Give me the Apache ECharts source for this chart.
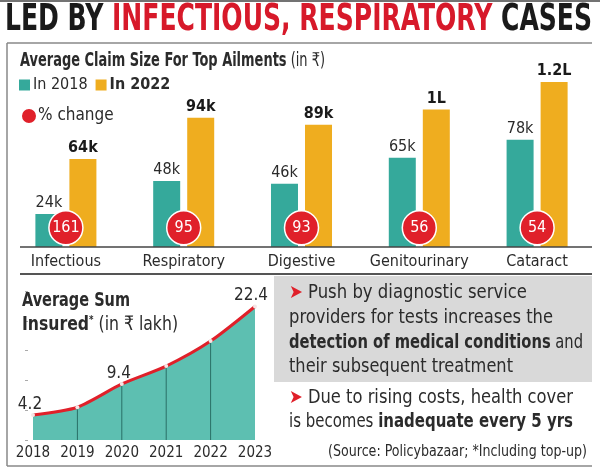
<!DOCTYPE html>
<html><head><meta charset="utf-8">
<script src="https://cdn.jsdelivr.net/npm/echarts@6/dist/echarts.min.js"></script>
<style>html,body{margin:0;padding:0;background:#fff}#c{width:600px;height:468px}</style>
</head><body><div id="c"></div>
<script>
// ---- data ----
const ailments = ['Infectious', 'Respiratory', 'Digestive', 'Genitourinary', 'Cataract'];
const claim2018 = [24, 48, 46, 65, 78];      // in thousand rupees
const claim2022 = [64, 94, 89, 100, 120];    // in thousand rupees (100k = 1L)
const pctChange = [161, 95, 93, 56, 54];
const years = ['2018', '2019', '2020', '2021', '2022', '2023'];
const sumInsured = [4.2, 5.5, 9.4, 12.4, 16.6, 22.4]; // in lakh
const sumLabelled = ['2018', '2020', '2023'];

// ---- style ----
const FF = "'Liberation Sans Narrow', 'DejaVu Sans Condensed', sans-serif";
const TEAL = '#35a99b', ORANGE = '#efad1f', RED = '#e0202a', AREA = '#5dbfb1', TXT = '#2b2b2b';

const cv = document.createElement('canvas').getContext('2d');
function measure(t, weight, size) { cv.font = weight + ' ' + size + 'px ' + FF; return cv.measureText(t).width; }
// lay out text segments condensed to a target width
function line(list, x, y, width, size) {
  const ws = list.map(s => measure(s.t, s.bold ? 'bold' : 'normal', s.size || size));
  const total = ws.reduce((a, b) => a + b, 0);
  const k = width / total;
  let cx = x; const out = [];
  list.forEach((s, i) => {
    out.push({ type: 'text', x: cx, y: y + (s.dy || 0), scaleX: k, z: 10,
      style: { text: s.t, fontFamily: FF, fontSize: s.size || size, fontWeight: s.bold ? 'bold' : 'normal',
        fill: s.color || TXT, verticalAlign: 'middle', align: 'left' } });
    cx += ws[i] * k;
  });
  return out;
}
const chart = echarts.init(document.getElementById('c'), null, { renderer: 'canvas' });
const kLabel = v => v >= 100 ? (v / 100) + 'L' : v + 'k';

const graphics = [].concat(
  [{ type: 'line', shape: { x1: 0, y1: 1, x2: 600, y2: 1 }, style: { stroke: '#444', lineWidth: 1.5 } },
   { type: 'line', shape: { x1: 7, y1: 43, x2: 592, y2: 43 }, style: { stroke: '#888', lineWidth: 1.5 } },
   { type: 'line', shape: { x1: 7, y1: 43, x2: 7, y2: 466 }, style: { stroke: '#888', lineWidth: 1.5 } },
   { type: 'line', shape: { x1: 7, y1: 466, x2: 592, y2: 466 }, style: { stroke: '#888', lineWidth: 1.5 } },
   { type: 'line', shape: { x1: 20, y1: 247, x2: 592, y2: 247 }, style: { stroke: '#444', lineWidth: 1.5 }, z: 5 },
   { type: 'line', shape: { x1: 20, y1: 274, x2: 592, y2: 274 }, style: { stroke: '#555', lineWidth: 2 } },
   { type: 'rect', shape: { x: 274, y: 276, width: 318, height: 106 }, style: { fill: '#d9d9d9' }, z: -1 }],
  line([{ t: 'LED BY ', bold: true, color: '#1a1a1a' }, { t: 'INFECTIOUS, RESPIRATORY', bold: true, color: '#d7192a' },
        { t: ' CASES', bold: true, color: '#1a1a1a' }], 5, 20, 587, 37),
  line([{ t: 'Average Claim Size For Top Ailments', bold: true }, { t: ' (in ₹)' }], 20, 61, 305, 19),
  line([{ t: 'Average Sum', bold: true }], 22, 301, 108, 20),
  line([{ t: 'Insured', bold: true }, { t: '*', bold: true, size: 11, dy: -5 }, { t: ' (in ₹ lakh)' }], 22, 325, 156, 20),
  line([{ t: '➤', color: RED }, { t: ' Push by diagnostic service' }], 289, 293, 238, 19),
  line([{ t: 'providers for tests increases the' }], 289, 318, 264, 19),
  line([{ t: 'detection of medical conditions', bold: true }, { t: ' and' }], 289, 343, 294, 19),
  line([{ t: 'their subsequent treatment' }], 289, 367, 224, 19),
  line([{ t: '➤', color: RED }, { t: ' Due to rising costs, health cover' }], 289, 398, 284, 19),
  line([{ t: 'is becomes ' }, { t: 'inadequate every 5 yrs', bold: true }], 289, 422, 284, 19),
  line([{ t: '(Source: Policybazaar; *Including top-up)' }], 328, 452, 259, 15)
);

chart.setOption({
  animation: false,
  textStyle: { fontFamily: FF },
  graphic: graphics,
  legend: [
    { left: 19, top: 77, itemWidth: 11, itemHeight: 11, itemGap: 8, icon: 'rect', padding: 0,
      textStyle: { fontFamily: FF, fontSize: 16, color: TXT, padding: [0, 0, 0, -2] },
      data: [{ name: 'In 2018' }, { name: 'In 2022', textStyle: { fontWeight: 'bold' } }] },
    { left: 20, top: 107, itemWidth: 16, itemHeight: 16, icon: 'circle', padding: 0,
      textStyle: { fontFamily: FF, fontSize: 17, color: TXT, padding: [0, 0, 0, -4] },
      data: [{ name: '% change' }] }
  ],
  grid: [
    { left: 7, right: 4, top: 82, bottom: 221 },
    { left: 33, right: 345, top: 291, bottom: 28 }
  ],
  xAxis: [
    { type: 'category', gridIndex: 0, data: ailments, axisLine: { show: false }, axisTick: { show: false },
      axisLabel: { interval: 0, fontFamily: FF, fontSize: 16, color: TXT, margin: 7 } },
    { type: 'category', gridIndex: 1, data: years, boundaryGap: false, axisLine: { show: false }, axisTick: { show: false },
      axisLabel: { interval: 0, fontFamily: FF, fontSize: 15, color: TXT, margin: 6 } }
  ],
  yAxis: [
    { type: 'value', gridIndex: 0, min: 0, max: 120, show: false },
    { type: 'value', gridIndex: 1, min: 0, max: 25, interval: 5, axisLine: { show: false }, offset: 5,
      axisTick: { show: true, length: 3, lineStyle: { color: '#aaa' } }, axisLabel: { show: false }, splitLine: { show: false } }
  ],
  series: [
    { name: 'In 2018', type: 'bar', xAxisIndex: 0, yAxisIndex: 0, data: claim2018, barWidth: 27, barGap: '26%',
      itemStyle: { color: TEAL },
      label: { show: true, position: 'top', distance: 3, fontFamily: FF, fontSize: 16, color: TXT, formatter: p => kLabel(p.value) } },
    { name: 'In 2022', type: 'bar', xAxisIndex: 0, yAxisIndex: 0, data: claim2022, barWidth: 27,
      itemStyle: { color: ORANGE },
      label: { show: true, position: 'top', distance: 3, fontFamily: FF, fontSize: 16, fontWeight: 'bold', color: '#1a1a1a', formatter: p => kLabel(p.value) } },
    { name: '% change', type: 'scatter', xAxisIndex: 0, yAxisIndex: 0, symbol: 'circle', symbolSize: 34, z: 4,
      data: pctChange.map((v, i) => ({ value: [i, 14] })),
      itemStyle: { color: RED, opacity: 1, borderColor: '#fff', borderWidth: 1.5 },
      label: { show: true, position: 'inside', fontFamily: FF, fontSize: 16, color: '#fff', formatter: p => String(pctChange[p.dataIndex]) } },
    { name: 'Sum insured', type: 'line', xAxisIndex: 1, yAxisIndex: 1, data: sumInsured.map((v, i) => ({
        value: v, label: { show: sumLabelled.includes(years[i]), offset: i === 5 ? [-4, 0] : [-3, 0] } })),
      smooth: 0.25, symbol: 'circle', symbolSize: 4, showSymbol: true,
      lineStyle: { color: RED, width: 3 }, itemStyle: { color: '#f6e6e6', borderWidth: 0 },
      areaStyle: { color: AREA, opacity: 1 },
      label: { position: 'top', distance: 0, fontFamily: FF, fontSize: 17, color: TXT } },
    { name: 'Sum ticks', type: 'bar', xAxisIndex: 1, yAxisIndex: 1, barWidth: 1, z: 3,
      data: sumInsured.map((v, i) => (i === 0 || i === sumInsured.length - 1) ? '-' : v),
      itemStyle: { color: '#2a6f67' } }
  ]
});
</script></body></html>
